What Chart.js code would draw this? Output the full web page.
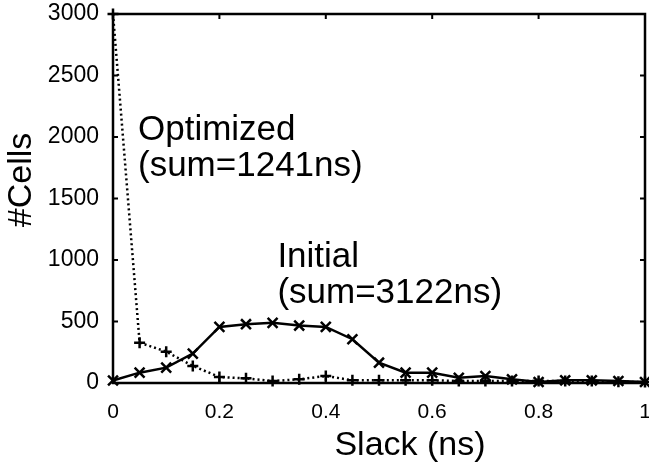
<!DOCTYPE html>
<html>
<head>
<meta charset="utf-8">
<script src="https://cdn.jsdelivr.net/npm/chart.js@4/dist/chart.umd.min.js"></script>
<style>
html,body{margin:0;padding:0;background:#fff;}
#wrap{width:649px;height:468px;position:relative;}
</style>
</head>
<body>
<div id="wrap"><canvas id="c"></canvas></div>
<script>
const slack = [0,0.05,0.1,0.15,0.2,0.25,0.3,0.35,0.4,0.45,0.5,0.55,0.6,0.65,0.7,0.75,0.8,0.85,0.9,0.95,1.0];
const initialCells = [20,84,125,239,456,478,489,467,456,356,165,84,84,43,57,30,8,22,22,16,8];
const optimizedCells = [3000,328,255,139,49,38,16,30,57,22,22,22,22,16,16,16,16,16,16,10,8];
const xTicks = [0,0.2,0.4,0.6,0.8,1];
const yTicks = [0,500,1000,1500,2000,2500,3000];
const xTitle = 'Slack (ns)';
const yTitle = '#Cells';
const annotations = [
  {x:0.047, y:1976, text:'Optimized'},
  {x:0.047, y:1683, text:'(sum=1241ns)'},
  {x:0.309, y:943, text:'Initial'},
  {x:0.309, y:650, text:'(sum=3122ns)'}
];
const FONT = '"Liberation Sans", Arial, sans-serif';

const framePlugin = {
  id:'frame',
  afterDatasetsDraw(chart){
    const {ctx, chartArea:a, scales:{x,y}} = chart;
    ctx.save();
    ctx.strokeStyle='#000';
    ctx.lineWidth=2.5;
    ctx.strokeRect(a.left,a.top,a.right-a.left,a.bottom-a.top);
    const L=5;
    ctx.lineWidth=2;
    ctx.beginPath();
    xTicks.forEach(v=>{const px=x.getPixelForValue(v);
      ctx.moveTo(px,a.bottom);ctx.lineTo(px,a.bottom-L);
      ctx.moveTo(px,a.top);ctx.lineTo(px,a.top+L);});
    yTicks.forEach(v=>{const py=y.getPixelForValue(v);
      ctx.moveTo(a.left,py);ctx.lineTo(a.left+L,py);
      ctx.moveTo(a.right,py);ctx.lineTo(a.right-L,py);});
    ctx.stroke();
    ctx.fillStyle='#000';
    ctx.font='35px '+FONT;
    ctx.textAlign='left';
    ctx.textBaseline='alphabetic';
    annotations.forEach(t=>{
      ctx.fillText(t.text, x.getPixelForValue(t.x), y.getPixelForValue(t.y));
    });
    ctx.font='34px '+FONT;
    ctx.textAlign='center';
    ctx.fillText(xTitle, 410, 455);
    ctx.save();
    ctx.translate(31,180);
    ctx.rotate(-Math.PI/2);
    ctx.fillText(yTitle, 0, 0);
    ctx.restore();
    ctx.restore();
  }
};

new Chart(document.getElementById('c'),{
  type:'line',
  data:{
    labels:slack,
    datasets:[
      {label:'Initial', data:slack.map((s,i)=>({x:s,y:initialCells[i]})), clip:false,
       borderColor:'#000', backgroundColor:'#000', borderWidth:2.5, tension:0,
       pointStyle:'crossRot', pointRadius:7, pointBorderWidth:2.5, pointBorderColor:'#000'},
      {label:'Optimized', data:slack.map((s,i)=>({x:s,y:optimizedCells[i]})), clip:false,
       borderColor:'#000', backgroundColor:'#000', borderWidth:2.5, borderDash:[2,3], tension:0,
       pointStyle:'cross', pointRadius:5.5, pointBorderWidth:2.5, pointBorderColor:'#000'}
    ]
  },
  options:{
    responsive:true, maintainAspectRatio:false, animation:false,
    layout:{autoPadding:false, padding:{top:14,right:4,left:0,bottom:0}},
    plugins:{legend:{display:false}, tooltip:{enabled:false}},
    scales:{
      x:{type:'linear', min:0, max:1,
         afterBuildTicks(s){s.ticks=xTicks.map(v=>({value:v}));},
         afterFit(s){s.height=85; s.paddingRight=0; s.paddingLeft=0;},
         grid:{display:false, drawTicks:false},
         border:{display:false},
         ticks:{color:'#000', font:{family:FONT,size:21}, padding:17, maxRotation:0,
                callback:v=>String(v)},
         title:{display:false}
      },
      y:{min:0, max:3000,
         afterBuildTicks(s){s.ticks=yTicks.map(v=>({value:v}));},
         afterFit(s){s.width=113; s.paddingTop=0; s.paddingBottom=0;},
         grid:{display:false, drawTicks:false},
         border:{display:false},
         ticks:{color:'#000', font:{family:FONT,size:23}, padding:14, callback:v=>String(v)},
         title:{display:false}
      }
    }
  },
  plugins:[framePlugin]
});
</script>
</body>
</html>
